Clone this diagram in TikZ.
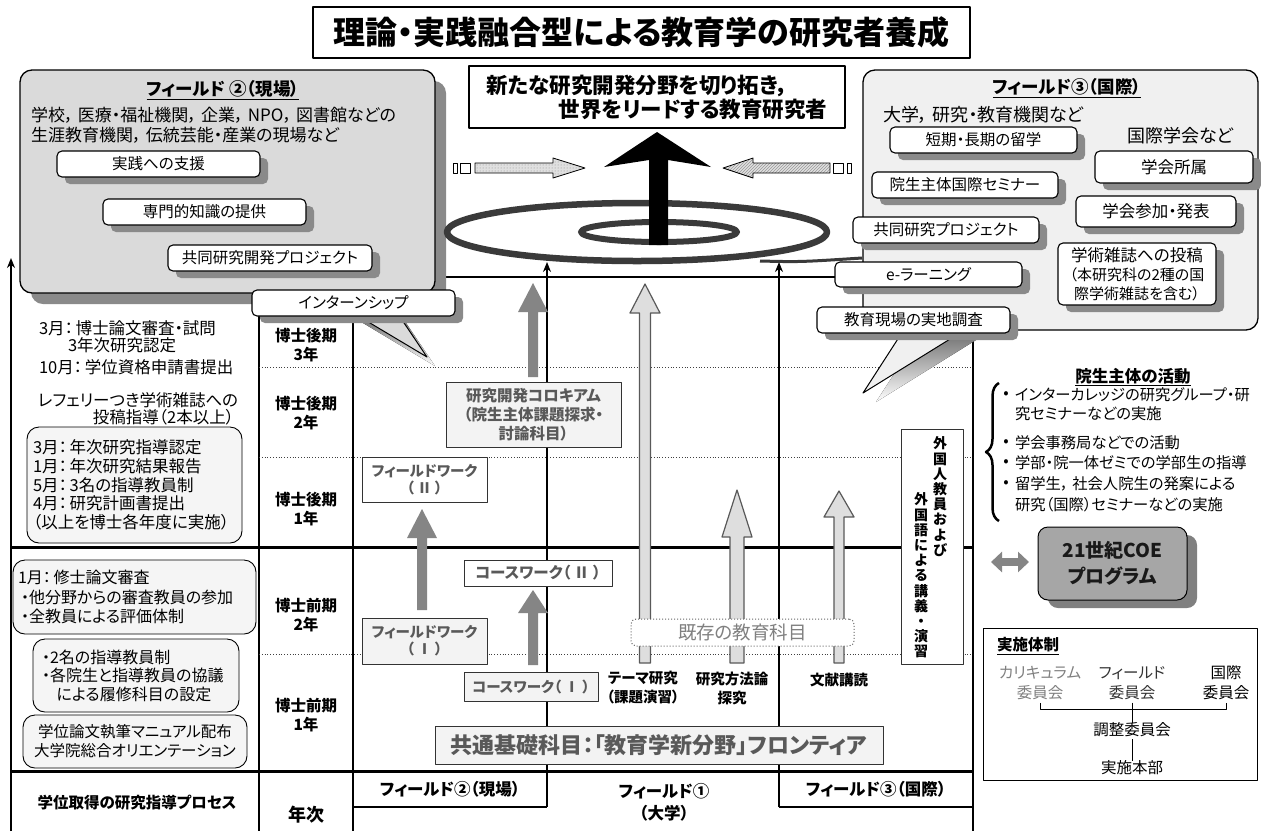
\documentclass[tikz,border=0pt]{standalone}
\usepackage{fontspec}
\setmainfont{Noto Sans CJK JP}[RawFeature=+palt]
\usetikzlibrary{shadows,patterns,arrows.meta,decorations.pathreplacing,calc}
\newcommand{\myfs}[2]{\fontsize{#1}{#2}\selectfont}
\newcommand{\blkarrow}[7]{\path[#1] (#2-#6,#3) -- (#2-#6,#5) -- (#2-#7,#5) -- (#2,#4) -- (#2+#7,#5) -- (#2+#6,#5) -- (#2+#6,#3) -- cycle;}
\newcommand{\cm}{，\hspace{0.25em}}
\definecolor{fieldA}{HTML}{DADADA}
\definecolor{fieldB}{HTML}{F0F0F0}
\definecolor{shade}{HTML}{8A8A8A}
\definecolor{txtgray}{HTML}{595959}
\definecolor{boxfill}{HTML}{F3F3F3}
\definecolor{arrdark}{HTML}{858585}
\definecolor{arrlight}{HTML}{DEDEDE}
\definecolor{coegray}{HTML}{A6A6A6}
\definecolor{coeshade}{HTML}{808080}
\definecolor{spiralc}{HTML}{3A3A3A}
\begin{document}
\begin{tikzpicture}[x=1pt,y=-1pt,line join=round,
  every node/.style={inner sep=0pt,outer sep=0pt},
  sbox/.style={draw,line width=1.1pt,fill=white,rounded corners=5pt,font=\myfs{15.5}{18},align=center,
    drop shadow={fill=shade,opacity=1,shadow xshift=8pt,shadow yshift=-7pt}},
  gbox/.style={draw=black!80,line width=0.9pt,fill=boxfill,align=center,font=\bfseries\myfs{14.5}{17},text=txtgray},
  wbox/.style={gbox,fill=white},
  lbox/.style={draw,line width=0.9pt,rounded corners=12pt,fill=black!4,align=left,font=\myfs{16}{19}},
  yr/.style={font=\bfseries\myfs{15.5}{19},align=center},
  tbl/.style={line width=1.4pt},
  tline/.style={line width=3pt},
  dline/.style={dotted,line width=0.8pt,black!75},
  darr/.style={fill=arrdark},
  larr/.style={fill=arrlight,draw=black!65,line width=1.2pt},
  upline/.style={line width=1.5pt,-{Stealth[length=10pt,width=8pt]}},
  ]
\useasboundingbox (0,0) rectangle (1261,831);
\fill[white] (0,0) rectangle (1261,831);

% ---------- table lines ----------
\coordinate (axB) at (11,831); \coordinate (axT) at (11,258);
\draw[upline] (axB) -- (axT);
\draw[tbl] (259,300) -- (259,831);
\draw[tbl] (353,300) -- (353,831);
\draw[tbl] (973,333) -- (973,831);
\draw[tbl] (435,277) -- (863,277);
\foreach \y in {367,457,654} \draw[dline] (259,\y) -- (973,\y);
\draw[tline] (11,547) -- (973,547);
\draw[tline] (11,771) -- (973,771);
\draw[tbl] (353,807) -- (547,807);
\draw[tbl] (779,807) -- (973,807);
\coordinate (vAb) at (547,807); \coordinate (vAt) at (547,262);
\coordinate (vBb) at (779,807); \coordinate (vBt) at (779,262);
\draw[upline] (vAb) -- (vAt);
\draw[upline] (vBb) -- (vBt);

% ---------- title ----------
\node[draw,line width=1.5pt,fill=white,minimum width=657,minimum height=51,font=\bfseries\myfs{32}{36}] (title) at (641.5,32.5) {理論・実践融合型による教育学の研究者養成};

% ---------- field 2 ----------
\node[draw,line width=1.3pt,rounded corners=12pt,fill=fieldA,minimum width=415,minimum height=223,
  drop shadow={fill=shade,opacity=1,shadow xshift=11pt,shadow yshift=-11pt}] (f2) at (227.5,181.5) {};
\node[font=\bfseries\myfs{17.5}{20}] (f2t) at (223,90) {\underline{フィールド ②（現場）}};
\node[anchor=west,font=\myfs{17}{20}] (f2a) at (31,115) {学校\cm 医療・福祉機関\cm 企業\cm NPO\cm 図書館などの};
\node[anchor=west,font=\myfs{17}{20}] (f2b) at (31,135) {生涯教育機関\cm 伝統芸能・産業の現場など};
\node[sbox,minimum width=203,minimum height=26] (f2n1) at (158.5,164) {実践への支援};
\node[sbox,minimum width=203,minimum height=26] (f2n2) at (204.5,212) {専門的知識の提供};
\node[sbox,minimum width=204,minimum height=26] (f2n3) at (270,258) {共同研究開発プロジェクト};

% ---------- field 3 ----------
\node[draw,line width=1.3pt,rounded corners=12pt,fill=fieldB,minimum width=395,minimum height=260] (f3) at (1060.5,200) {};
\node[font=\bfseries\myfs{17.5}{20}] (f3t) at (1067,88) {\underline{フィールド③（国際）}};
\node[anchor=west,font=\myfs{18}{20}] (f3a) at (883,115) {大学\cm 研究・教育機関など};
\node[anchor=west,font=\myfs{18}{20}] (f3b) at (1127,136) {国際学会など};
\node[sbox,minimum width=187,minimum height=26] (f3n1) at (983.5,140) {短期・長期の留学};
\node[sbox,minimum width=158,minimum height=32,font=\myfs{16.5}{19}] (f3n2) at (1174,167) {学会所属};
\node[sbox,minimum width=186,minimum height=26] (f3n3) at (965,185) {院生主体国際セミナー};
\node[sbox,minimum width=160,minimum height=31,font=\myfs{16.5}{19}] (f3n4) at (1156,211.5) {学会参加・発表};
\node[sbox,minimum width=186,minimum height=26] (f3n5) at (946,230) {共同研究プロジェクト};
\node[sbox,minimum width=158,minimum height=62,font=\myfs{15}{19}] (f3n6) at (1137,274) {{\myfs{16.5}{19}学術雑誌への投稿}\\（本研究科の2種の国\\際学術雑誌を含む）};
\node[sbox,minimum width=187,minimum height=25] (f3n7) at (928.5,274.5) {e-ラーニング};

% ---------- spiral and goal ----------
\draw[spiralc,line width=6.5pt] (637,232) ellipse [x radius=190,y radius=29];
\draw[spiralc,line width=6pt] (659,232) ellipse [x radius=78,y radius=10];
\draw[spiralc,line width=3pt] (760,261) .. controls (800,262) .. (862,258);
\fill[black] (657,132) -- (711,167) -- (668,160) -- (668,245) -- (649,245) -- (649,160) -- (604,167) -- cycle;
\node[draw,line width=2pt,fill=white,minimum width=376,minimum height=62,align=left,font=\bfseries\myfs{21.5}{24}] (goal) at (657,97) {新たな研究開発分野を切り拓き，\\\hspace*{72pt}世界をリードする教育研究者};

% small horizontal arrows
\fill[black!12] (475,163) -- (553,163) -- (553,158) -- (585,168) -- (553,178) -- (553,173) -- (475,173) -- cycle;
\draw[line width=0.8pt,pattern=dots,pattern color=black!45] (475,163) -- (553,163) -- (553,158) -- (585,168) -- (553,178) -- (553,173) -- (475,173) -- cycle;
\draw[line width=0.8pt] (453,163) rectangle (457,173);
\draw[line width=0.8pt] (460,163) rectangle (470,173);
\fill[black!12] (830,163) -- (753,163) -- (753,158) -- (723,168) -- (753,178) -- (753,173) -- (830,173) -- cycle;
\draw[line width=0.8pt,pattern=north east lines,pattern color=black!40] (830,163) -- (753,163) -- (753,158) -- (723,168) -- (753,178) -- (753,173) -- (830,173) -- cycle;
\draw[line width=0.8pt] (833,163) rectangle (843,173);
\draw[line width=0.8pt] (847,163) rectangle (851,173);

% ---------- callouts ----------
\fill[shade] (363,323) -- (406,323) -- (435,366) -- cycle;
\draw[line width=1pt,fill=fieldA] (355,314) -- (398,314) -- (427,357) -- cycle;
\node[sbox,minimum width=203,minimum height=26] (intern) at (353.5,303) {インターンシップ};
\fill[shade] (916,340) -- (976,340) -- (876,402) -- cycle;
\draw[line width=1pt,fill=fieldB] (903,331) -- (963,331) -- (863,393) -- cycle;
\node[sbox,minimum width=193,minimum height=26] (jicchi) at (913.5,320) {教育現場の実地調査};

% ---------- central arrows ----------
\blkarrow{darr}{533}{377}{283}{312}{5}{15}
\blkarrow{darr}{422}{610}{509}{538}{5}{15}
\blkarrow{darr}{533}{665}{590}{613}{5}{15}
\blkarrow{larr}{645}{663}{284}{313}{5.5}{15}
\blkarrow{larr}{737}{663}{490}{537}{7}{15}
\blkarrow{larr}{839}{663}{491}{517}{5}{15}

% ---------- central boxes ----------
\node[gbox,minimum width=175,minimum height=65,font=\bfseries\myfs{15.5}{19}] (collo) at (533.5,414.5) {研究開発コロキアム\\（院生主体課題探求・\\討論科目）};
\node[wbox,minimum width=125,minimum height=45] (fw2) at (424.5,479.5) {フィールドワーク\\（ Ⅱ ）};
\node[gbox,minimum width=125,minimum height=46] (fw1) at (424.5,641) {フィールドワーク\\（ Ⅰ ）};
\node[wbox,minimum width=148,minimum height=26,font=\bfseries\myfs{15.5}{18}] (cw2) at (538,573) {コースワーク（ Ⅱ ）};
\node[gbox,minimum width=134,minimum height=29] (cw1) at (531,686.5) {コースワーク（ Ⅰ ）};
\node[draw=black!60,dotted,line width=1pt,rounded corners=5pt,fill=white,minimum width=223,minimum height=27,font=\myfs{18.5}{20},text=black!50] (kizon) at (742.5,632.5) {既存の教育科目};
\node[font=\bfseries\myfs{14.5}{19},align=center] (theme) at (643,688) {テーマ研究\\（課題演習）};
\node[font=\bfseries\myfs{14.5}{19},align=center] (houhou) at (732,688) {研究方法論\\探究};
\node[font=\bfseries\myfs{14.5}{19}] (bunken) at (839,680) {文献講読};
\node[gbox,minimum width=448,minimum height=38,font=\bfseries\myfs{22}{24}] (kiso) at (659,745) {共通基礎科目：「教育学新分野」フロンティア};
\node[draw=black!80,line width=0.9pt,fill=white,minimum width=62,minimum height=235] (gaikoku) at (932,546.5) {};
\node[anchor=north,font=\bfseries\myfs{14}{15.2},align=center] (gk1) at (940,437) {外\\国\\人\\教\\員\\お\\よ\\び};
\node[anchor=north,font=\bfseries\myfs{14}{15.2},align=center] (gk2) at (921,493) {外\\国\\語\\に\\よ\\る\\講\\義\\・\\演\\習};

% ---------- bottom labels ----------
\node[font=\bfseries\myfs{16.5}{19}] (bf2) at (450,789) {フィールド②（現場）};
\node[font=\bfseries\myfs{16.5}{22},align=center] (bf1) at (664,802) {フィールド①\\（大学）};
\node[font=\bfseries\myfs{16.5}{19}] (bf3) at (876,789) {フィールド③（国際）};
\node[font=\bfseries\myfs{15.5}{18}] (proc) at (137,803) {学位取得の研究指導プロセス};
\node[font=\bfseries\myfs{18}{20}] (nenji) at (306,815) {年次};

% ---------- year labels ----------
\node[yr] (y3) at (306,345) {博士後期\\3年};
\node[yr] (y2) at (306,413) {博士後期\\2年};
\node[yr] (y1) at (306,509) {博士後期\\1年};
\node[yr] (m2) at (306,615) {博士前期\\2年};
\node[yr] (m1) at (306,715) {博士前期\\1年};

% ---------- left column ----------
\node[anchor=west,font=\myfs{16.5}{19}] (l1) at (39,328) {3月：\,博士論文審査・試問};
\node[anchor=west,font=\myfs{16.5}{19}] (l2) at (68,345) {3年次研究認定};
\node[anchor=west,font=\myfs{16.5}{19}] (l3) at (39,367) {10月：\,学位資格申請書提出};
\node[anchor=west,font=\myfs{16.5}{19}] (l4) at (38,400) {レフェリーつき学術雑誌への};
\node[anchor=east,font=\myfs{16.5}{19}] (l5) at (234,417) {投稿指導（2本以上）};
\node[lbox,minimum width=215,minimum height=116,text width=203,font=\myfs{16.5}{18.6}] (lb1) at (134.5,485) {3月：\,年次研究指導認定\\1月：\,年次研究結果報告\\5月：\,3名の指導教員制\\4月：\,研究計画書提出\\（以上を博士各年度に実施）};
\node[lbox,minimum width=243,minimum height=74,text width=233,font=\myfs{16}{19.5}] (lb2) at (134.5,597) {1月：\,修士論文審査\\\hspace*{3pt}・他分野からの審査教員の参加\\\hspace*{3pt}・全教員による評価体制};
\node[lbox,minimum width=206,minimum height=73,text width=194,font=\myfs{16}{18.5}] (lb3) at (136,675.5) {\hspace*{3pt}・2名の指導教員制\\\hspace*{3pt}・各院生と指導教員の協議\\\hspace*{1.1em}による履修科目の設定};
\node[lbox,minimum width=224,minimum height=53,align=center,font=\myfs{15.5}{19}] (lb4) at (135,741.5) {学位論文執筆マニュアル配布\\大学院総合オリエンテーション};

% ---------- right column ----------
\node[font=\bfseries\myfs{16.5}{19}] (act) at (1133,377) {\underline{院生主体の活動}};
\draw[line width=2.5pt,decorate,decoration={brace,amplitude=13pt}] (999,521) -- (999,383);
\foreach \yy/\nm in {395/b1,443/b2,463/b3,484/b4} \node[font=\myfs{16}{16}] (\nm) at (1006,\yy) {•};
\node[anchor=west,font=\myfs{15.3}{17}] (a1) at (1015,395) {インターカレッジの研究グループ・研};
\node[anchor=west,font=\myfs{15.3}{17}] (a2) at (1015,414) {究セミナーなどの実施};
\node[anchor=west,font=\myfs{15.3}{17}] (a3) at (1015,443) {学会事務局などでの活動};
\node[anchor=west,font=\myfs{15.3}{17}] (a4) at (1015,463) {学部・院一体ゼミでの学部生の指導};
\node[anchor=west,font=\myfs{15.3}{17}] (a5) at (1015,484) {留学生\cm 社会人院生の発案による};
\node[anchor=west,font=\myfs{15.3}{17}] (a6) at (1015,505) {研究（国際）セミナーなどの実施};

\node[draw,line width=1pt,rounded corners=10pt,fill=coegray,minimum width=149,minimum height=73,align=center,
  font=\bfseries\myfs{19}{26},text=black!90,
  drop shadow={fill=coeshade,opacity=1,shadow xshift=10pt,shadow yshift=-8pt}] (coe) at (1112.5,563.5) {21世紀COE\\プログラム};
\coordinate (dA) at (991,562); \coordinate (dB) at (1029,562);
\draw[arrdark,line width=8pt,{Triangle[length=11pt,width=20pt]}-{Triangle[length=11pt,width=20pt]}] (dA) -- (dB);

\node[draw,line width=1pt,minimum width=274,minimum height=152] (taisei) at (1120,704) {};
\node[anchor=west,font=\bfseries\myfs{15.5}{18}] (taiseit) at (997,646) {\underline{実施体制}};
\node[font=\myfs{15.5}{20},align=center,text=black!50] (c1) at (1040,683) {カリキュラム\\委員会};
\node[font=\myfs{15.5}{20},align=center,text=black!80] (c2) at (1132,683) {フィールド\\委員会};
\node[font=\myfs{15.5}{20},align=center] (c3) at (1226,683) {国際\\委員会};
\node[font=\myfs{15.5}{18}] (chosei) at (1132,730) {調整委員会};
\node[font=\myfs{15.5}{18}] (honbu) at (1132,768) {実施本部};
\draw[line width=0.9pt] ($(c1.south)+(0,3)$) -- (1040,709) -- (1226,709) -- ($(c3.south)+(0,3)$);
\draw[line width=0.9pt] ($(c2.south)+(0,3)$) -- (chosei.north);
\draw[line width=0.9pt] ($(chosei.south)+(0,2)$) -- (honbu.north);
\end{tikzpicture}
\end{document}
